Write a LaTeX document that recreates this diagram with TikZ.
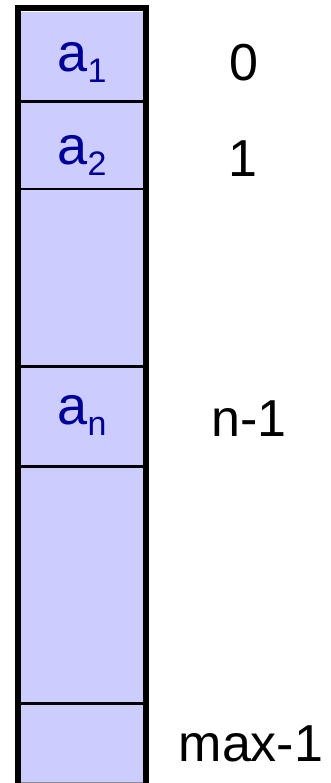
\documentclass[tikz,border=0pt]{standalone}
\usepackage{fontspec}
\setmainfont{Liberation Sans}
\definecolor{cellfill}{HTML}{CCCCFF}
\definecolor{cellink}{HTML}{000099}
\newcommand{\subidx}[1]{\raisebox{-11pt}{\fontsize{34}{34}\selectfont #1}}
\begin{document}
\begin{tikzpicture}[x=1pt,y=1pt,
  cell/.style={fill=cellfill,draw=none,inner sep=0pt,minimum width=122pt,anchor=north west},
  divider/.style={draw=black,line width=2.5pt},
  frame/.style={draw=black,line width=6pt},
  elem/.style={text=cellink,font=\fontsize{54}{60}\selectfont,anchor=base,inner sep=0pt},
  idx/.style={text=black,font=\fontsize{52}{60}\selectfont,anchor=base,inner sep=0pt}]
\useasboundingbox (0,0) rectangle (330,783);
% cells (y measured from top: 783 - y)
\node[cell,minimum height=89pt]  (c1) at (21,771) {};
\node[cell,minimum height=87.5pt] (c2) at (21,682) {};
\node[cell,minimum height=177.5pt] (c3) at (21,594.5) {};
\node[cell,minimum height=100pt] (c4) at (21,417) {};
\node[cell,minimum height=237pt] (c5) at (21,317) {};
\node[cell,minimum height=80pt]  (c6) at (21,80) {};
% dividers
\draw[divider] (c1.south west) -- (c1.south east);
\draw[divider] (c2.south west) -- (c2.south east);
\draw[divider] (c3.south west) -- (c3.south east);
\draw[divider] (c4.south west) -- (c4.south east);
\draw[divider] (c5.south west) -- (c5.south east);
\draw[draw=black!45,line width=1.2pt] ([yshift=0.8pt]c6.south west) -- ([yshift=0.8pt]c6.south east);
% frame
\coordinate (fbl) at (18,0);
\coordinate (ftl) at (18,774.5);
\coordinate (ftr) at (146,774.5);
\coordinate (fbr) at (146,0);
\draw[frame] (fbl) -- (ftl) -- (ftr) -- (fbr);
% element labels
\node[elem] (a1) at (82,711) {a\subidx{1}};
\node[elem] (a2) at (82,618) {a\subidx{2}};
\node[elem] (an) at (82,358) {a\subidx{n}};
% index labels
\node[idx] (i0) at (244,702) {0};
\node[idx] (i1) at (243,606) {1};
\node[idx] (in) at (249,346) {n-1};
\node[idx] (im) at (251,21) {max-1};
\end{tikzpicture}
\end{document}
